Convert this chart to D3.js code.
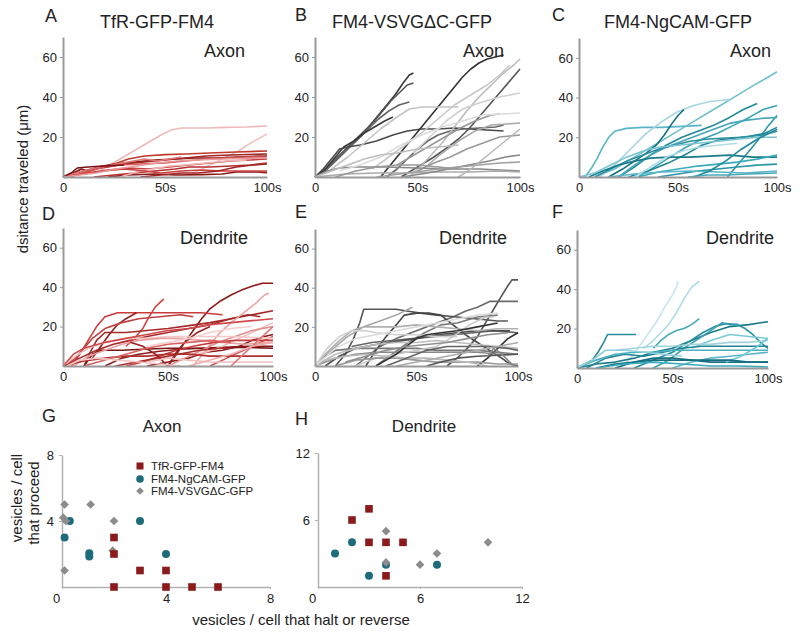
<!DOCTYPE html>
<html><head><meta charset="utf-8">
<script src="https://cdn.jsdelivr.net/npm/d3@7"></script>
<style>
body{margin:0;background:#fff}
text{font-family:"Liberation Sans",Arial,sans-serif;fill:#222}
</style>
</head><body>
<svg id="c" width="800" height="632"></svg>
<script>
// ---------- DATA ----------
const timeTicks = [0, 50, 100];
const distTicks = [20, 40, 60];
const panelLetters = ["A", "B", "C", "D", "E", "F"];
const constructs = ["TfR-GFP-FM4", "FM4-VSVGΔC-GFP", "FM4-NgCAM-GFP"];
const regions = ["Axon", "Dendrite"];
const yTitle = "dsitance traveled (μm)";

const tracksA = [
 [[0,0],[10,1.5],[18,3],[23,6],[28,9],[33,12],[38,15],[43,18],[48,21],[53,23.5],[58,24.5],[70,24.5],[80,24.8],[90,25],[100,25.5]],
 [[62,1],[68,4],[74,7],[80,10],[86,13],[92,17],[100,21.5]],
 [[0,0],[5,2],[9,4],[12,3],[17,5],[25,6.5],[35,7.5],[45,8.5],[55,9],[65,9.5],[75,9.5],[85,10],[100,10.5]],
 [[0,0],[8,1.5],[16,4],[24,6],[32,9],[40,10.5],[50,11.2],[60,11.5],[72,12],[85,12.5],[100,13]],
 [[0,0],[6,2],[14,4],[22,5],[30,6.5],[40,7.5],[50,8.5],[60,9.5],[70,10.5],[82,11],[100,11.5]],
 [[0,0],[12,2],[22,3.5],[32,4.5],[42,4],[52,5],[62,6],[72,7],[82,8],[92,8.5],[100,9]],
 [[15,0],[25,1],[35,2],[45,3],[55,4],[62,5],[72,5],[82,5.5],[92,6],[100,7]],
 [[22,0],[32,1],[45,1.5],[55,1],[68,1.2],[78,1.5],[85,2.5],[95,2.5],[100,2.2]],
 [[0,0],[8,2.5],[16,4.5],[24,6],[32,7.5],[40,9],[46,8],[52,9],[58,10]],
 [[3,0],[12,2.5],[20,5],[28,6],[38,6.5],[50,7],[60,8],[70,9],[80,9.5],[90,10],[100,10]],
 [[28,0],[36,2.5],[44,4],[52,5.5],[60,6],[70,7],[80,8],[90,8.5]],
 [[0,0],[10,1.5],[20,3],[30,4],[40,3],[48,2],[58,3],[68,3.5],[78,3],[90,3],[100,3]],
 [[38,0],[48,1],[58,2],[66,2],[76,3],[85,5],[93,6],[100,6.5]],
 [[0,0],[4,2],[7,4.5],[12,5],[20,5.5],[30,6]],
 [[0,0],[8,1],[16,2],[26,4],[36,5.5],[46,7],[56,8],[66,8.5],[78,9],[100,9.5]]
];
const tracksB = [
 [[0,0],[4,2.5],[8,6],[12,10],[15,13],[19,17],[23,21],[27,26],[31,31],[35,36],[39,41],[43,47],[46,51],[48,52]],
 [[0,0],[5,3],[9,8],[13,12],[17,16],[21,20],[25,24],[29,28],[33,33],[37,38],[41,42],[45,46],[48,47]],
 [[0,0],[6,4],[11,9],[16,14],[21,19],[26,24],[31,29],[36,33],[41,36],[46,37.5]],
 [[0,0],[5,4],[10,10],[14,15],[19,18],[24,22],[29,25],[34,28],[38,30]],
 [[0,0],[4,4],[8,9],[12,14],[16,15],[22,16],[30,18],[38,21],[45,23],[52,24],[60,24],[68,24.5],[76,24],[84,23.5],[92,23]],
 [[32,0],[36,5],[40,10],[44,15],[48,20],[52,25],[56,30],[60,35],[64,40],[68,45],[72,50],[76,54],[80,57],[84,59],[88,60],[92,61]],
 [[35,0],[40,4],[45,9],[50,14],[55,18],[60,21],[66,23],[72,24],[80,24.5],[88,25],[92,26]],
 [[42,0],[50,5],[58,10],[65,15],[70,19],[75,24],[80,30],[85,36],[90,42],[95,48],[100,54]],
 [[46,0],[54,8],[62,17],[68,25],[74,33],[80,40],[86,46],[92,52],[97,56],[100,59]],
 [[28,4],[36,10],[44,16],[52,22],[60,29],[68,36],[76,41],[84,46],[90,51],[95,56]],
 [[48,12],[56,20],[64,28],[72,34],[80,37],[90,40],[100,42]],
 [[8,4],[16,10],[24,17],[32,24],[40,30],[46,34],[52,35],[60,35],[70,35]],
 [[55,6],[62,12],[70,18],[78,23],[86,26],[100,27]],
 [[50,3],[58,7],[66,10],[74,14],[82,17],[90,20],[100,21]],
 [[40,6],[50,12],[60,18],[70,24],[78,28],[86,31],[90,31.5]],
 [[0,0],[6,3],[12,4.5],[20,5],[35,5],[50,4.5],[65,4],[80,4],[100,3]],
 [[0,0],[15,1.5],[30,2],[45,2],[60,2.5],[75,2.5],[90,3],[100,2.5]],
 [[42,0],[55,2],[65,4],[75,6],[85,8],[93,10],[100,11]],
 [[30,0],[45,2],[60,4],[75,5.5],[90,7],[100,7.5]],
 [[70,0],[76,4],[82,9],[88,14],[94,19],[100,24]],
 [[12,3],[22,6],[32,10],[42,16],[52,21],[62,25],[72,28],[82,31],[92,31.5],[100,32]],
 [[0,0],[8,3],[16,6],[24,9],[32,11],[40,12],[50,14],[60,15],[70,16]],
 [[10,0],[20,3],[30,5],[40,6],[50,6],[60,5],[70,4]]
];
const tracksC = [
 [[3,0],[6,4],[9,9],[12,15],[15,20],[18,23],[24,24.5],[32,25],[42,25],[52,25.5],[62,26]],
 [[8,0],[18,4],[28,10],[38,16],[48,22],[58,28],[68,34],[78,40],[88,46],[95,50],[100,53]],
 [[10,0],[18,6],[26,14],[34,22],[42,28],[50,33],[58,36],[66,38],[76,39]],
 [[15,0],[22,4],[28,8],[34,12],[39,16],[43,21],[47,27],[50,31],[53,34]],
 [[20,0],[28,5],[36,11],[44,16],[52,20],[60,23],[68,26],[76,30],[83,34],[90,37]],
 [[30,0],[38,5],[46,10],[54,15],[62,19],[70,22],[78,26],[86,30],[93,34],[100,36]],
 [[75,0],[80,6],[85,12],[90,18],[95,25],[100,31]],
 [[20,0],[28,6],[36,11],[44,15],[52,18],[60,21],[68,24],[76,27],[84,28.5],[92,29.5],[100,30]],
 [[25,0],[35,3],[45,7],[55,12],[62,16],[70,18.5],[78,19.5],[86,20.5],[94,22],[100,25]],
 [[8,0],[16,4],[24,8],[32,11],[40,14],[48,16],[56,18],[64,19],[72,19.5],[82,20],[92,21],[100,23]],
 [[5,0],[12,3],[20,6],[28,8],[36,9.5],[46,10],[56,10],[66,10.5],[76,11],[88,10],[100,10]],
 [[30,0],[40,2.5],[50,4],[60,5.5],[70,6.5],[80,7.5],[90,9],[100,11]],
 [[40,0],[50,1.5],[60,3],[70,4],[80,5],[90,6],[100,6.5]],
 [[15,0],[28,1.5],[42,2.5],[56,3],[70,2.5],[84,2],[100,3]],
 [[28,0],[36,5],[44,10],[52,13],[60,15],[70,16],[80,17]],
 [[0,0],[8,2],[16,6],[24,10],[32,13],[40,15],[50,16],[60,17],[70,18],[80,19],[90,20],[100,20]],
 [[58,0],[66,3],[74,8],[82,14],[90,19],[100,24]],
 [[55,0],[65,1],[75,1],[85,1.5],[100,2]]
];
const tracksD = [
 [[50,0],[54,6],[58,12],[62,18],[66,24],[70,29],[75,33],[80,36],[85,38.5],[90,40.5],[95,42],[100,42]],
 [[0,0],[8,4],[16,8],[24,11],[32,13],[40,15],[50,17],[60,19],[70,21],[80,24],[90,26],[100,28]],
 [[4,0],[8,6],[12,13],[16,20],[20,25],[26,27],[36,27],[46,27],[56,27],[66,27],[76,26]],
 [[30,10],[34,14],[38,19],[41,25],[44,30],[47,33],[48,34]],
 [[10,0],[13,7],[16,13],[20,17],[30,17],[40,18],[50,19],[60,20.5],[70,22],[80,24],[88,26],[94,25]],
 [[20,0],[28,4],[36,6],[46,7.5],[56,8.5],[66,9],[76,9.5],[88,10],[100,10]],
 [[10,0],[14,6],[18,8],[28,8],[38,8.5],[50,9],[62,9],[74,9],[86,9.5],[100,9]],
 [[40,0],[50,2],[60,4],[68,7],[76,8],[84,10],[90,13],[96,15],[100,16]],
 [[14,4],[18,10],[22,16],[26,21],[30,24],[35,27]],
 [[0,0],[6,4],[10,9],[14,14],[20,19],[28,22],[36,24],[46,25],[56,26],[62,25]],
 [[62,0],[68,8],[74,16],[80,22],[86,27],[92,32],[96,36],[98,37]],
 [[60,5],[68,7],[76,10],[84,14],[92,18],[100,22]],
 [[50,0],[58,4],[66,8],[74,12],[82,15],[90,18],[100,20]],
 [[70,0],[78,4],[86,8],[94,12],[100,15]],
 [[0,0],[6,5],[12,9],[20,12],[30,14],[40,14],[50,15],[60,15],[70,15],[80,15],[100,14]],
 [[5,0],[12,5],[20,8],[28,11],[36,13],[46,14],[56,14],[66,13],[76,12],[86,11],[100,12]],
 [[30,0],[38,2],[46,5],[54,8],[62,10],[72,12],[82,13],[92,13],[100,13]],
 [[0,0],[10,2.5],[20,4],[30,5],[40,5],[50,6],[60,6],[70,5],[80,5],[100,5]],
 [[32,12],[38,10],[44,6],[50,0],[54,7],[58,12],[64,17],[70,20]],
 [[40,2],[50,4],[60,3],[70,2],[80,2],[90,2],[100,2]],
 [[10,0],[20,3],[30,6],[40,9],[50,11],[60,12],[70,13],[80,12]],
 [[25,0],[35,2],[45,4],[55,6],[65,8],[75,9],[80,9]],
 [[80,0],[85,5],[90,10],[95,15],[100,20]],
 [[0,0],[5,6],[10,9],[20,12],[30,14],[40,16],[50,18],[60,19],[70,21],[80,22],[90,23],[100,24]],
 [[60,0],[70,3],[80,6],[90,10],[100,12]],
 [[2,0],[8,3],[16,4],[26,3],[36,2],[46,1],[56,0]],
 [[40,10],[50,12],[60,14],[70,17],[80,19],[90,20]]
];
const tracksE = [
 [[65,0],[70,4],[75,9],[80,15],[84,22],[88,29],[92,36],[95,41],[97,44],[100,44]],
 [[20,0],[26,5],[32,10],[40,14],[50,18],[60,22],[68,25],[74,28],[80,30],[86,33],[92,33],[100,33]],
 [[10,0],[15,6],[19,14],[22,22],[24,29],[32,29],[40,29],[46,28],[52,27],[60,26],[70,25],[80,24],[90,23],[95,23]],
 [[25,0],[30,8],[35,15],[40,21],[44,26],[50,27],[56,27],[62,26],[68,21],[74,16],[80,12],[86,8],[92,4],[96,1],[100,0]],
 [[0,0],[8,8],[16,15],[24,20],[32,23],[40,26],[48,30]],
 [[30,0],[38,6],[46,12],[54,17],[62,21],[70,22],[80,25],[90,26]],
 [[18,10],[28,12],[38,13],[48,14],[58,15],[68,16],[78,17],[88,18],[100,17]],
 [[80,0],[85,4],[90,9],[95,14],[100,17]],
 [[5,0],[12,5],[20,9],[30,11],[40,12.5],[50,14],[60,16],[70,17],[80,18],[88,18],[96,18]],
 [[0,0],[5,5],[10,8],[20,9],[30,9],[40,9],[50,9],[60,8],[70,8],[80,8],[90,7],[100,6]],
 [[0,0],[10,4],[20,6],[30,7],[40,7],[50,7],[60,7],[70,7],[80,7],[90,6],[100,6]],
 [[0,0],[6,7],[12,13],[18,18],[24,20],[32,20],[40,20],[50,21],[60,20],[70,19],[80,18],[90,19],[100,19]],
 [[0,0],[10,6],[20,9],[30,11],[40,12],[50,12],[60,13],[70,12],[80,11],[90,10],[100,9]],
 [[0,0],[6,9],[12,15],[18,18],[25,18],[30,17],[40,16],[50,16],[60,15],[70,15]],
 [[20,0],[30,4],[40,6],[50,8],[60,10],[68,15],[76,21],[84,25],[88,25]],
 [[10,0],[20,3],[30,4],[40,4],[50,3],[60,2],[70,2],[80,2],[90,1],[100,1]],
 [[0,0],[5,3],[15,5],[25,6],[35,5],[45,4],[55,4],[65,3],[75,2],[85,0]],
 [[35,0],[45,4],[55,8],[65,10],[75,10],[85,10],[95,9],[100,8]],
 [[55,0],[62,2],[70,4],[80,5],[90,5.5],[100,6]],
 [[0,0],[10,9],[20,14],[30,16],[40,18],[50,20],[60,22],[70,24],[80,26],[90,27]],
 [[40,0],[50,2],[60,4],[70,6],[80,8],[90,10],[100,12]],
 [[30,0],[35,3],[40,6],[45,10],[50,14],[55,16],[62,17],[70,18],[80,20],[90,22]],
 [[85,5],[88,9],[91,7],[95,3],[98,0]],
 [[15,2],[25,5],[35,8],[45,10],[55,11],[65,12],[75,14],[85,16],[95,17]]
];
const tracksF = [
 [[0,0],[4,2],[8,4],[11,8],[14,13],[16,17],[22,17],[27,17],[31,17]],
 [[22,0],[27,4],[32,10],[37,17],[42,24],[46,31],[50,37],[52,41],[53,44]],
 [[35,10],[40,14],[44,18],[48,22],[52,28],[56,35],[60,41],[64,44]],
 [[40,10],[44,14],[48,17],[52,19],[56,20],[60,22],[64,25]],
 [[0,0],[10,2],[20,3],[30,5],[40,8],[50,10],[60,14],[70,18],[80,21],[90,22],[100,23.5]],
 [[30,0],[40,4],[50,8],[58,13],[66,18],[72,21],[78,22.5],[84,22],[88,20],[92,17],[96,13],[100,10]],
 [[40,0],[48,4],[56,10],[64,15],[70,19],[76,23],[80,22],[85,22]],
 [[60,10],[70,14],[80,17],[90,16],[100,15]],
 [[20,9],[30,10],[40,11],[50,11],[60,12],[70,12],[80,13],[90,13],[100,14]],
 [[5,0],[15,5],[25,7],[35,6],[45,8],[55,10],[65,11],[75,11],[85,11],[95,11],[100,11]],
 [[0,0],[10,4],[20,7],[30,8],[40,8],[50,9],[60,9],[70,9],[80,9],[90,9],[100,9]],
 [[20,0],[30,3],[40,5],[50,5],[60,4],[70,3],[80,3],[90,3],[100,3]],
 [[50,0],[60,3],[70,5],[80,6],[90,7],[100,8]],
 [[78,3],[86,6],[93,10],[100,15]],
 [[10,0],[20,2],[30,3],[40,4],[50,4],[60,4],[70,4],[80,4],[90,3],[100,3]],
 [[0,0],[8,4],[15,9],[25,9],[35,8],[45,7],[55,6]],
 [[10,0],[25,2],[40,3],[55,2],[70,1],[85,1],[100,0.5]]
];

// scatter data
const legendNames = ["TfR-GFP-FM4", "FM4-NgCAM-GFP", "FM4-VSVGΔC-GFP"];
const axonTfR   = [[2,3],[2,2],[3,1],[4,1],[2,0],[4,0],[5,0],[6,0]];
const axonNgCAM = [[0.3,4],[3,4],[0.1,3],[1.05,2.05],[1.05,1.85],[4,2]];
const axonVSVG  = [[0.1,5],[0.05,4.2],[0.15,4],[1.1,5],[2,4],[1.95,2.2],[0.1,1]];
const dendTfR   = [[2,6],[3,7],[3,4],[4,4],[5,4],[4,1]];
const dendNgCAM = [[1,3],[2,4],[3,1],[4,2],[7,2]];
const dendVSVG  = [[4,5],[4,2.2],[6,2],[7,3],[10,4]];
const axonTicks = [0, 4, 8];
const dendTicks = [0, 6, 12];
const scatterTitles = ["Axon", "Dendrite"];
const scatterLetters = ["G", "H"];
const xTitle = "vesicles / cell that halt or reverse";
const yTitleLines = ["vesicles / cell", "that proceed"];

// ---------- STYLES ----------
const colorsA = ["#efb9b9","#f0c2c2","#8b1a1a","#c0392b","#a32424","#c94040","#b83030","#8b1a1a","#e07878","#d65858","#f0b8b8","#c94040","#a32424","#7a1010","#e89a9a"];
const colorsB = ["#3a3a3a","#555","#666","#3a3a3a","#4a4a4a","#333","#666","#555","#bbb","#c8c8c8","#d0d0d0","#c4c4c4","#aaa","#999","#999","#888","#aaa","#888","#a0a0a0","#b8b8b8","#dcdcdc","#bdbdbd","#999"];
const colorsC = ["#5ab5c8","#6fbfcd","#a8d6df","#16707f","#1f8798","#3aa5b6","#2a96a8","#44a6b7","#1f8595","#2a90a0","#1a7a8a","#3aaabb","#2a95a5","#5ab5c8","#b0dce4","#7cc4d2","#1f8a9a","#47a8b8"];
const colorsD = ["#8b1a1a","#a82828","#c83c3c","#d04545","#a52a2a","#8b1a1a","#7a1515","#8b1a1a","#9b2020","#c04040","#eaa4a4","#f2bcbc","#e09090","#d05050","#f5c8c8","#e8a0a0","#c83c3c","#b03030","#9b2020","#f0c0c0","#d86060","#aa2a2a","#e07a7a","#d04848","#f0b0b0","#f3c4c4","#f5d0d0"];
const colorsE = ["#555","#6a6a6a","#555","#444","#a8a8a8","#7a7a7a","#666","#333","#4a4a4a","#777","#8a8a8a","#b0b0b0","#bdbdbd","#cfcfcf","#c8c8c8","#999","#bbb","#666","#555","#dcdcdc","#aaa","#333","#888","#909090"];
const colorsF = ["#2a8a9a","#c8e6ec","#b0dce4","#45aab8","#1a7a8a","#2590a0","#3aa0b0","#7cc8d4","#a0d4dc","#1f8595","#48b0c0","#1a7080","#5ab5c8","#6ccad8","#147080","#90d0dc","#3aaabb"];

const layout = [
  {x0:63, x1:267, y0:177, y1:37},
  {x0:315,x1:520, y0:177, y1:37},
  {x0:579,x1:777, y0:177, y1:38},
  {x0:63, x1:273, y0:366, y1:228},
  {x0:315,x1:518, y0:366, y1:229},
  {x0:577,x1:768, y0:368, y1:230}
];
const letterPos = [[45,22],[295,21],[552,21],[42,220],[295,218],[552,218]];
const titleX = [157, 412, 678];
const regionPos = [[204,57],[463,57],[730,57],[180,244],[439,244],[706,244]];

const svg = d3.select("#c");
const allTracks = [tracksA, tracksB, tracksC, tracksD, tracksE, tracksF];
const allColors = [colorsA, colorsB, colorsC, colorsD, colorsE, colorsF];

function styleAxis(g, col, w){
  g.select(".domain").attr("stroke", col).attr("stroke-width", w);
  g.selectAll(".tick line").attr("stroke", col);
  g.selectAll(".tick text").attr("fill", "#222").style("font-family", '"Liberation Sans",Arial,sans-serif');
}

allTracks.forEach((tracks, i) => {
  const L = layout[i];
  const x = d3.scaleLinear().domain([0, 100]).range([L.x0, L.x1]);
  const y = d3.scaleLinear().domain([0, 70]).range([L.y0, L.y1]);
  const line = d3.line().x(d => x(d[0])).y(d => y(d[1]));
  const g = svg.append("g");
  g.selectAll("path.trk").data(tracks).join("path")
    .attr("class", "trk")
    .attr("d", line)
    .attr("fill", "none")
    .attr("stroke", (d, j) => allColors[i][j % allColors[i].length])
    .attr("stroke-width", 1.6)
    .attr("stroke-linejoin", "round");

  const xa = svg.append("g").attr("transform", `translate(0,${L.y0})`)
    .call(d3.axisBottom(x).tickValues(timeTicks).tickSize(0).tickSizeOuter(0).tickPadding(6)
      .tickFormat(d => d === 0 ? "0" : d + "s"));
  xa.selectAll(".tick text").style("font-size", "13px");
  styleAxis(xa, "#9a9a9a", 2);

  const ya = svg.append("g").attr("transform", `translate(${L.x0},0)`)
    .call(d3.axisLeft(y).tickValues(distTicks).tickSize(3).tickSizeOuter(0).tickPadding(3));
  ya.selectAll(".tick text").style("font-size", "13px");
  styleAxis(ya, "#9a9a9a", 2);

  svg.append("text").attr("x", letterPos[i][0]).attr("y", letterPos[i][1])
    .style("font-size", "18px").text(panelLetters[i]);
  svg.append("text").attr("x", regionPos[i][0]).attr("y", regionPos[i][1])
    .style("font-size", "18px").text(regions[i < 3 ? 0 : 1]);
});

constructs.forEach((c, i) => {
  svg.append("text").attr("x", titleX[i]).attr("y", 28).attr("text-anchor", "middle")
    .style("font-size", "18px").text(c);
});

svg.append("text").attr("transform", "translate(28,179) rotate(-90)")
  .attr("text-anchor", "middle").style("font-size", "15px").text(yTitle);

// ---------- SCATTER ----------
const scat = [
  {x0:62, x1:270, y0:587, y1:455, max:8, ticks:axonTicks, tfr:axonTfR, ng:axonNgCAM, vs:axonVSVG, title:[162,432], letter:[42,422]},
  {x0:318,x1:522, y0:587, y1:453, max:12, ticks:dendTicks, tfr:dendTfR, ng:dendNgCAM, vs:dendVSVG, title:[424,432], letter:[295,425]}
];
const cRed = "#8b1a1a", cTeal = "#1e6b7b", cGrey = "#8c8c8c";
const diamond = d3.symbol().type(d3.symbolSquare).size(38);

scat.forEach((S, i) => {
  const x = d3.scaleLinear().domain([0, S.max]).range([S.x0, S.x1]);
  const y = d3.scaleLinear().domain([0, S.max]).range([S.y0, S.y1]);
  const xa = svg.append("g").attr("transform", `translate(0,${S.y0})`)
    .call(d3.axisBottom(x).tickValues(S.ticks).tickSize(2).tickSizeOuter(0).tickPadding(5));
  xa.selectAll(".tick text").style("font-size", "13px");
  xa.selectAll(".tick text").filter(d => d === 0).attr("dx", -6);
  styleAxis(xa, "#b0b0b0", 1.5);
  const ya = svg.append("g").attr("transform", `translate(${S.x0},0)`)
    .call(d3.axisLeft(y).tickValues(S.ticks.filter(t => t > 0)).tickSize(3).tickSizeOuter(0).tickPadding(5));
  ya.selectAll(".tick text").style("font-size", "13px");
  styleAxis(ya, "#b0b0b0", 1.5);

  svg.append("g").selectAll("circle").data(S.ng).join("circle")
    .attr("cx", d => x(d[0])).attr("cy", d => y(d[1])).attr("r", 4).attr("fill", cTeal);
  svg.append("g").selectAll("path").data(S.vs).join("path")
    .attr("transform", d => `translate(${x(d[0])},${y(d[1])}) rotate(45)`).attr("d", diamond).attr("fill", cGrey);
  svg.append("g").selectAll("rect").data(S.tfr).join("rect")
    .attr("x", d => x(d[0]) - 3.8).attr("y", d => y(d[1]) - 3.8).attr("width", 7.6).attr("height", 7.6).attr("fill", cRed);

  svg.append("text").attr("x", S.title[0]).attr("y", S.title[1]).attr("text-anchor", "middle")
    .style("font-size", "17px").text(scatterTitles[i]);
  svg.append("text").attr("x", S.letter[0]).attr("y", S.letter[1])
    .style("font-size", "18px").text(scatterLetters[i]);
});

// legend
const legY = [466, 479, 491];
const lg = svg.append("g");
lg.append("rect").attr("x", 136.5).attr("y", legY[0] - 3.5).attr("width", 7).attr("height", 7).attr("fill", cRed);
lg.append("circle").attr("cx", 140).attr("cy", legY[1]).attr("r", 3.8).attr("fill", cTeal);
lg.append("path").attr("transform", `translate(140,${legY[2]}) rotate(45)`).attr("d", d3.symbol().type(d3.symbolSquare).size(30)).attr("fill", cGrey);
legendNames.forEach((n, i) => {
  lg.append("text").attr("x", 151).attr("y", legY[i] + 4).style("font-size", "11.5px").text(n);
});

svg.append("text").attr("x", 301).attr("y", 625).attr("text-anchor", "middle")
  .style("font-size", "15px").text(xTitle);
svg.append("text").attr("transform", "translate(22,498) rotate(-90)").attr("text-anchor", "middle")
  .style("font-size", "15px").text(yTitleLines[0]);
svg.append("text").attr("transform", "translate(39,503) rotate(-90)").attr("text-anchor", "middle")
  .style("font-size", "15px").text(yTitleLines[1]);
</script>
</body></html>
